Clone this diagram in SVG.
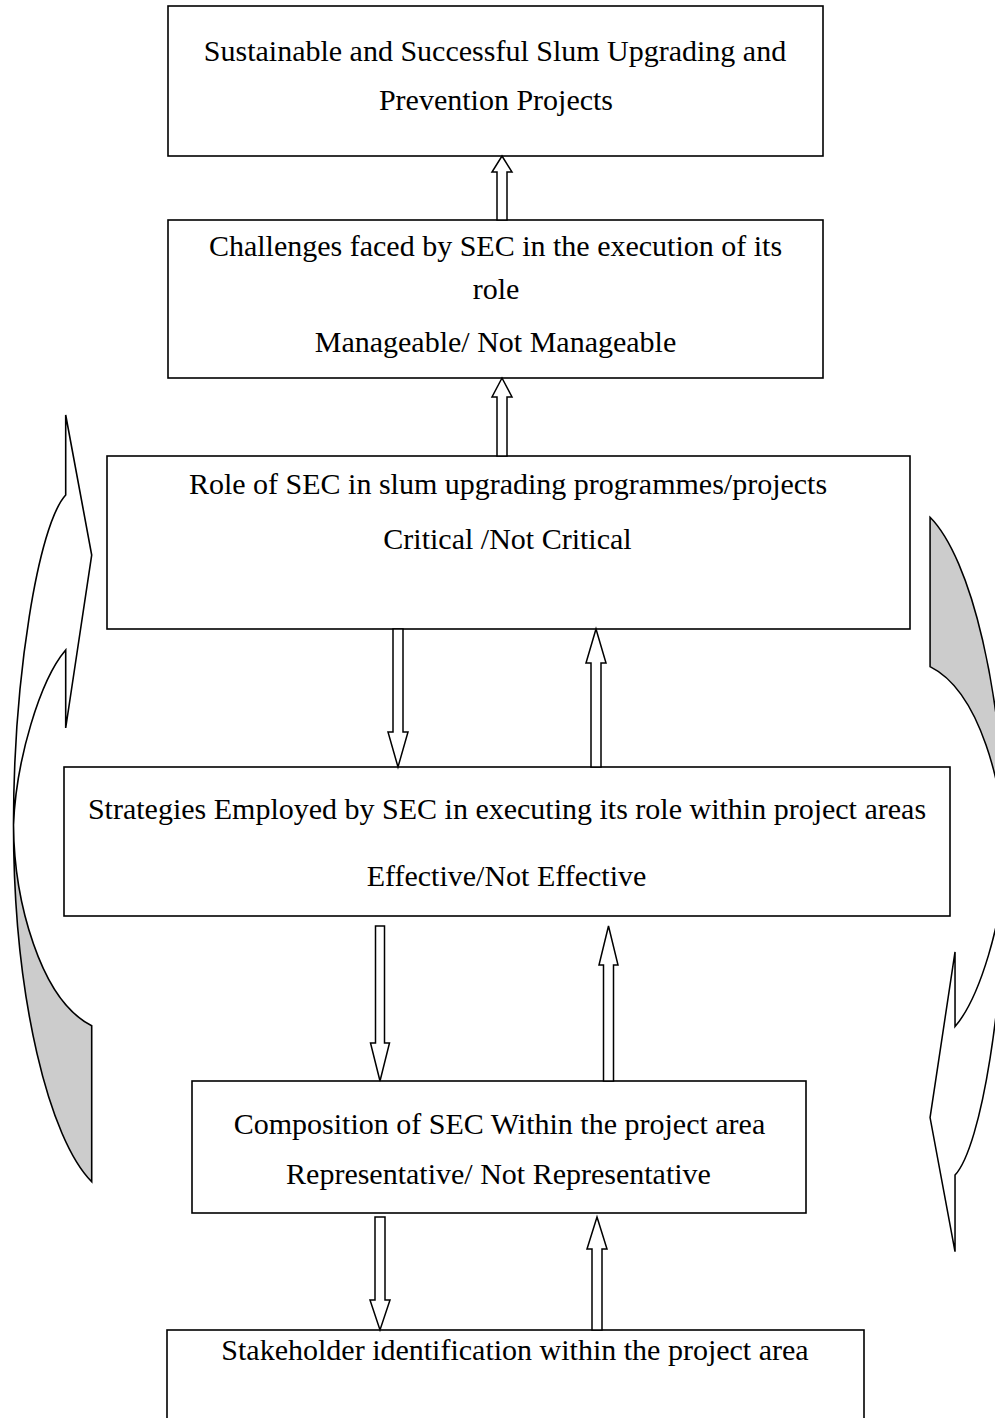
<svg xmlns="http://www.w3.org/2000/svg" width="995" height="1418" viewBox="0 0 995 1418">
<style>
.box{fill:#ffffff;stroke:#000000;stroke-width:1.6}
.arr{fill:#ffffff;stroke:#000000;stroke-width:1.5;stroke-linejoin:miter}
.cv{stroke:#000000;stroke-width:1.6;stroke-linejoin:miter}
.t{font-family:"Liberation Serif","Times New Roman",serif;font-size:30px;fill:#000000;text-anchor:middle}
</style>
<defs>
<g id="curved">
<path class="cv" fill="#cccccc" d="M 13.5 825 C 14 900 40 1000 91.7 1025.7 L 91.7 1181.7 C 50 1140 13.5 1000 13.5 825 Z"/>
<path class="cv" fill="#ffffff" d="M 65.7 495 C 38 525 13.5 680 13.5 825 C 16 760 40 680 65.7 650 L 65.7 728 L 91.7 555 L 65.7 415 Z"/>
</g>
</defs>
<rect width="995" height="1418" fill="#ffffff"/>
<g id="curved-left"><use href="#curved"/></g>
<g id="curved-right"><use href="#curved" transform="translate(1018.1,1649.3) scale(-0.96,-0.958)"/></g>
<g id="n1"><rect class="box" x="168" y="6" width="655" height="150"/>
<text class="t" x="495" y="61">Sustainable and Successful Slum Upgrading and</text>
<text class="t" x="496" y="110">Prevention Projects</text></g>
<g id="n2"><rect class="box" x="168" y="220" width="655" height="158"/>
<text class="t" x="495.5" y="256">Challenges faced by SEC in the execution of its</text>
<text class="t" x="496" y="299">role</text>
<text class="t" x="495.5" y="352">Manageable/ Not Manageable</text></g>
<g id="n3"><rect class="box" x="107" y="456" width="803" height="173"/>
<text class="t" x="508" y="494">Role of SEC in slum upgrading programmes/projects</text>
<text class="t" x="507.5" y="549">Critical /Not Critical</text></g>
<g id="n4"><rect class="box" x="64" y="767" width="886" height="149"/>
<text class="t" x="507" y="819">Strategies Employed by SEC in executing its role within project areas</text>
<text class="t" x="506.5" y="886">Effective/Not Effective</text></g>
<g id="n5"><rect class="box" x="192" y="1081" width="614" height="132"/>
<text class="t" x="499.5" y="1134">Composition of SEC Within the project area</text>
<text class="t" x="498.5" y="1184">Representative/ Not Representative</text></g>
<g id="n6"><rect class="box" x="167" y="1330" width="697" height="110"/>
<text class="t" x="515" y="1360">Stakeholder identification within the project area</text></g>
<g id="connectors">
<polygon class="arr" points="502,156 512,172 507,172 507,220 497,220 497,172 492,172"/>
<polygon class="arr" points="502,378 512,397 507,397 507,456 497,456 497,397 492,397"/>
<polygon class="arr" points="393,629 403,629 403,732 408,732 398,767 388,732 393,732"/>
<polygon class="arr" points="596,629 606,663 601,663 601,767 591,767 591,663 586,663"/>
<polygon class="arr" points="375.5,926 384.5,926 384.5,1043 389.5,1043 380,1081 370.5,1043 375.5,1043"/>
<polygon class="arr" points="608.5,926 618,965 613.5,965 613.5,1081 603.5,1081 603.5,965 599,965"/>
<polygon class="arr" points="375,1217 385,1217 385,1300 390,1300 380,1330 370,1300 375,1300"/>
<polygon class="arr" points="597,1217 607,1249 602,1249 602,1330 592,1330 592,1249 587,1249"/>
</g>
</svg>
